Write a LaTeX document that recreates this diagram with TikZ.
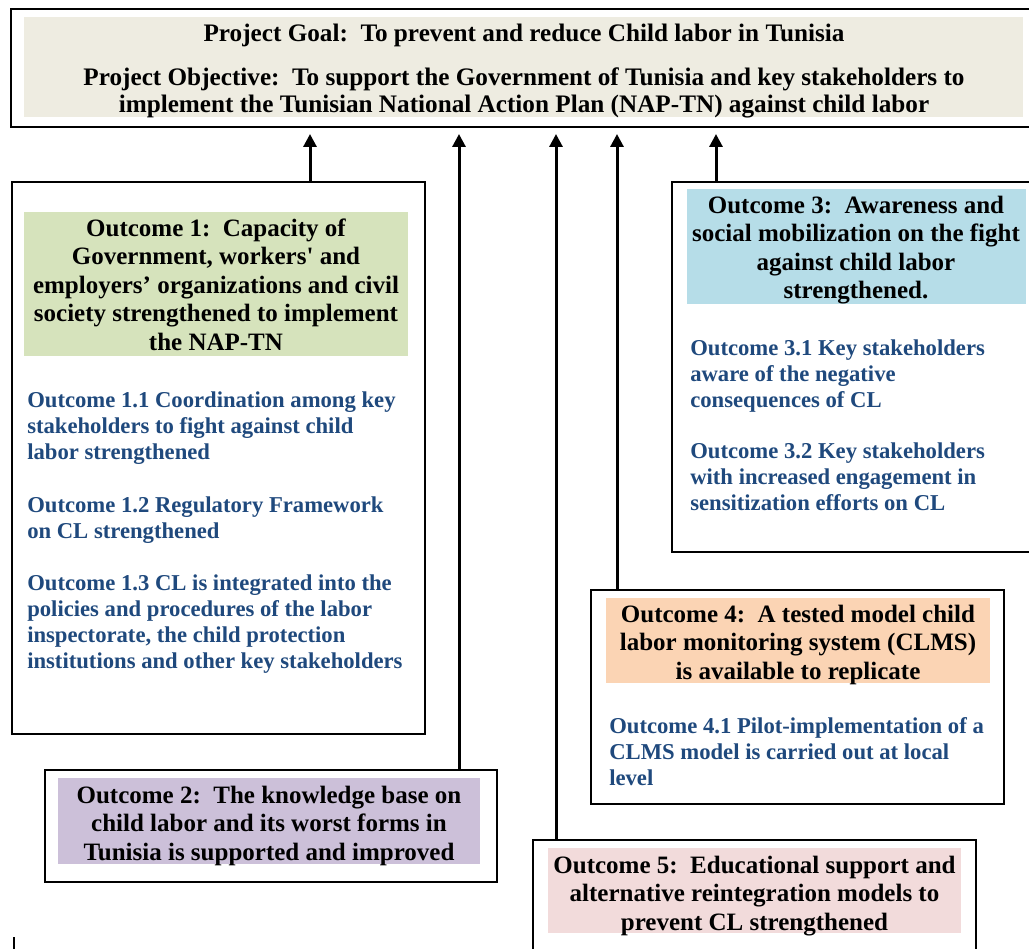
\documentclass[tikz,border=0pt]{standalone}
\usepackage{fontspec}
\setmainfont{Liberation Serif}
\usetikzlibrary{fit,arrows.meta}
\definecolor{topfill}{HTML}{EEECE1}
\definecolor{greenfill}{HTML}{D6E3BC}
\definecolor{bluefill}{HTML}{B6DDE8}
\definecolor{orangefill}{HTML}{FBD4B4}
\definecolor{purplefill}{HTML}{CCC0D9}
\definecolor{pinkfill}{HTML}{F2DBDB}
\definecolor{subblue}{HTML}{1F497D}
\begin{document}
\begin{tikzpicture}[x=0.75pt,y=-0.75pt,
  frame/.style={draw=black,line width=1.5pt,inner sep=0pt},
  band/.style={draw=none,inner sep=0pt},
  hd/.style={font=\bfseries\fontsize{18.75}{21.4}\selectfont,align=center,anchor=north,inner sep=0pt},
  sub/.style={font=\bfseries\fontsize{17}{19.5}\selectfont,text=subblue,align=left,anchor=north west,inner sep=0pt},
  toptext/.style={font=\bfseries\fontsize{18.9}{20.25}\selectfont,align=center,inner sep=0pt},
  arr/.style={line width=2.25pt,-{Triangle[length=9.75pt,width=9.75pt]},shorten >=4.5pt}]
\useasboundingbox (0,0) rectangle (1029,949);
\clip (0,0) rectangle (1029,949);
\fill[white] (0,0) rectangle (1029,949);

% top box
\node[band,fill=topfill,fit={(24,17)(1023,117)}] (topband) {};
\node[frame,fit={(11,9)(1045,127)}] (top) {};
\node[toptext,anchor=base] (goal) at (524,42) {Project Goal:\ \ To prevent and reduce Child labor in Tunisia};
\node[toptext,anchor=north] (obj) at (524,66) {\strut Project Objective:\ \ To support the Government of Tunisia and key stakeholders to\\implement the Tunisian National Action Plan (NAP-TN) against child labor};

% outcome 1
\node[frame,fit={(12,182)(425,734)}] (b1) {};
\node[band,fill=greenfill,fit={(24,212)(408,356)}] (f1) {};
\node[hd] (h1) at (216,216) {\strut Outcome 1:\ \ Capacity of\\Government, workers\textquotesingle{} and\\employers’ organizations and civil\\society strengthened to implement\\the NAP-TN};
\node[sub] (s11) at (27,389) {\strut Outcome 1.1 Coordination among key\\stakeholders to fight against child\\labor strengthened};
\node[sub] (s12) at (27,494) {\strut Outcome 1.2 Regulatory Framework\\on CL strengthened};
\node[sub] (s13) at (27,572) {\strut Outcome 1.3 CL is integrated into the\\policies and procedures of the labor\\inspectorate, the child protection\\institutions and other key stakeholders};

% outcome 3
\node[frame,fit={(672,182)(1045,552)}] (b3) {};
\node[band,fill=bluefill,fit={(687,189)(1026,304)}] (f3) {};
\node[hd] (h3) at (856,193) {\strut Outcome 3:\ \ Awareness and\\social mobilization on the fight\\against child labor\\strengthened.};
\node[sub] (s31) at (690,337) {\strut Outcome 3.1 Key stakeholders\\aware of the negative\\consequences of CL};
\node[sub] (s32) at (690,440) {\strut Outcome 3.2 Key stakeholders\\with increased engagement in\\sensitization efforts on CL};

% outcome 4
\node[frame,fit={(591,590)(1004,804)}] (b4) {};
\node[band,fill=orangefill,fit={(606,598)(990,683)}] (f4) {};
\node[hd] (h4) at (798,602) {\strut Outcome 4:\ \ A tested model child\\labor monitoring system (CLMS)\\is available to replicate};
\node[sub] (s41) at (609,715) {\strut Outcome 4.1 Pilot-implementation of a\\CLMS model is carried out at local\\level};

% outcome 2
\node[frame,fit={(45,770)(497,882)}] (b2) {};
\node[band,fill=purplefill,fit={(58,778)(480,864)}] (f2) {};
\node[hd] (h2) at (269,783) {\strut Outcome 2:\ \ The knowledge base on\\child labor and its worst forms in\\Tunisia is supported and improved};

% outcome 5
\node[frame,fit={(533,840)(976,965)}] (b5) {};
\node[band,fill=pinkfill,fit={(548,848)(961,933)}] (f5) {};
\node[hd] (h5) at (754.5,853) {\strut Outcome 5:\ \ Educational support and\\alternative reintegration models to\\prevent CL strengthened};

% connector x positions
\coordinate (c1) at (310,0);
\coordinate (c2) at (459,0);
\coordinate (c5) at (556,0);
\coordinate (c4) at (617,0);
\coordinate (c3) at (716,0);
\draw[arr] (b1.north -| c1) -- (top.south -| c1);
\draw[arr] (b2.north -| c2) -- (top.south -| c2);
\draw[arr] (b5.north -| c5) -- (top.south -| c5);
\draw[arr] (b4.north -| c4) -- (top.south -| c4);
\draw[arr] (b3.north -| c3) -- (top.south -| c3);

% fragment line at lower left
\coordinate (fragA) at (14,937);
\coordinate (fragB) at (14,955);
\draw[line width=0.9pt] (fragA) -- (fragB);
\end{tikzpicture}
\end{document}
